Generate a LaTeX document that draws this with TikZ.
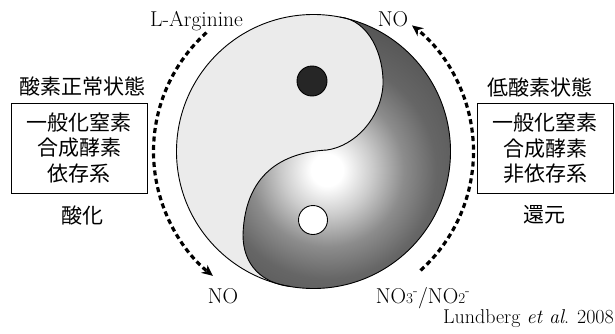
\documentclass[tikz,border=0pt]{standalone}
\usepackage{fontspec}
\newfontfamily\cjk{Noto Sans CJK JP}
\usetikzlibrary{arrows.meta,calc}
\pgfdeclareradialshading{yyshade}{\pgfpoint{0bp}{0bp}}{color(0bp)=(white); color(2.5bp)=(white); color(7bp)=(black!20); color(12bp)=(black!45); color(17bp)=(black!60); color(25bp)=(black!68); color(50bp)=(black!68)}
\newcommand\cjkfs{\cjk\fontsize{21}{25.5}\selectfont}
\newcommand\latfs{\fontsize{21.5}{24}\selectfont}
\tikzset{
  cjklabel/.style={font=\cjkfs, inner sep=0pt},
  latlabel/.style={font=\latfs, inner sep=0pt, anchor=base},
  cjkbox/.style={draw, line width=0.8pt, font=\cjkfs, align=center, minimum width=136pt, minimum height=90pt, inner sep=0pt},
  dasharrow/.style={line width=3.2pt, dash pattern=on 5pt off 3.5pt, -{Stealth[length=11pt,width=10pt]}},
  yyline/.style={line width=0.9pt},
}
\begin{document}
\begin{tikzpicture}[x=1pt,y=1pt]
\useasboundingbox (0,0) rectangle (615,333);
\coordinate (c) at (313.5,181.5);
\coordinate (T) at ($(c)+(79:137)$);
\coordinate (B) at ($(c)+(260:137)$);
% light disc
\fill[black!8] (c) circle (137);
% dark part with shading
\begin{scope}
\clip (T) .. controls (369,313) and (384,278) .. (383,248) .. controls (381,215) and (355,187) .. (327,183) .. controls (290,181) and (245,165) .. (243,98) .. controls (243,68) and (262,50) .. (B) arc[start angle=260, end angle=439, radius=137] -- cycle;
\shade[shading=yyshade] (327,163) circle (160);
\end{scope}
\draw[yyline] (T) .. controls (369,313) and (384,278) .. (383,248) .. controls (381,215) and (355,187) .. (327,183) .. controls (290,181) and (245,165) .. (243,98) .. controls (243,68) and (262,50) .. (B);
\draw[yyline] (c) circle (137);
% dots
\node[circle, draw, line width=0.9pt, fill=black!85, minimum size=30pt, inner sep=0pt] (darkdot) at (312,252) {};
\node[circle, draw, line width=0.9pt, fill=white, minimum size=29pt, inner sep=0pt] (lightdot) at (313,113) {};
% labels around
\node[latlabel] (arg) at (196.5,306) {\addfontfeature{LetterSpace=5}L-Arginine};
\node[latlabel] (notop) at (393,307) {NO};
\node[latlabel] (nobot) at (223,30) {NO};
\node[latlabel] (nox) at (423,30) {NO{\fontsize{15}{15}\selectfont 3}\textsuperscript{-}/NO{\fontsize{15}{15}\selectfont 2}\textsuperscript{-}};
\node[font=\fontsize{20}{22}\selectfont, inner sep=0pt, anchor=base east] (ref) at (614,10) {Lundberg \textit{et al}. 2008};
% dashed arrows
\coordinate (l1) at ($(c)+(132:160)$);
\draw[dasharrow] (l1) arc[start angle=132, end angle=231, radius=160];
\coordinate (r1) at ($(c)+(-48:160)$);
\draw[dasharrow] (r1) arc[start angle=-48, end angle=52, radius=160];
% left side
\node[cjklabel] (lhead) at (82,247) {酸素正常状態};
\node[cjkbox] (lbox) at (79,185) {一般化窒素\\合成酵素\\依存系};
\node[cjklabel] (lfoot) at (82,118) {酸化};
% right side
\node[cjklabel] (rhead) at (540,246) {低酸素状態};
\node[cjkbox] (rbox) at (545,184.5) {一般化窒素\\合成酵素\\非依存系};
\node[cjklabel] (rfoot) at (544,118) {還元};
\end{tikzpicture}
\end{document}
